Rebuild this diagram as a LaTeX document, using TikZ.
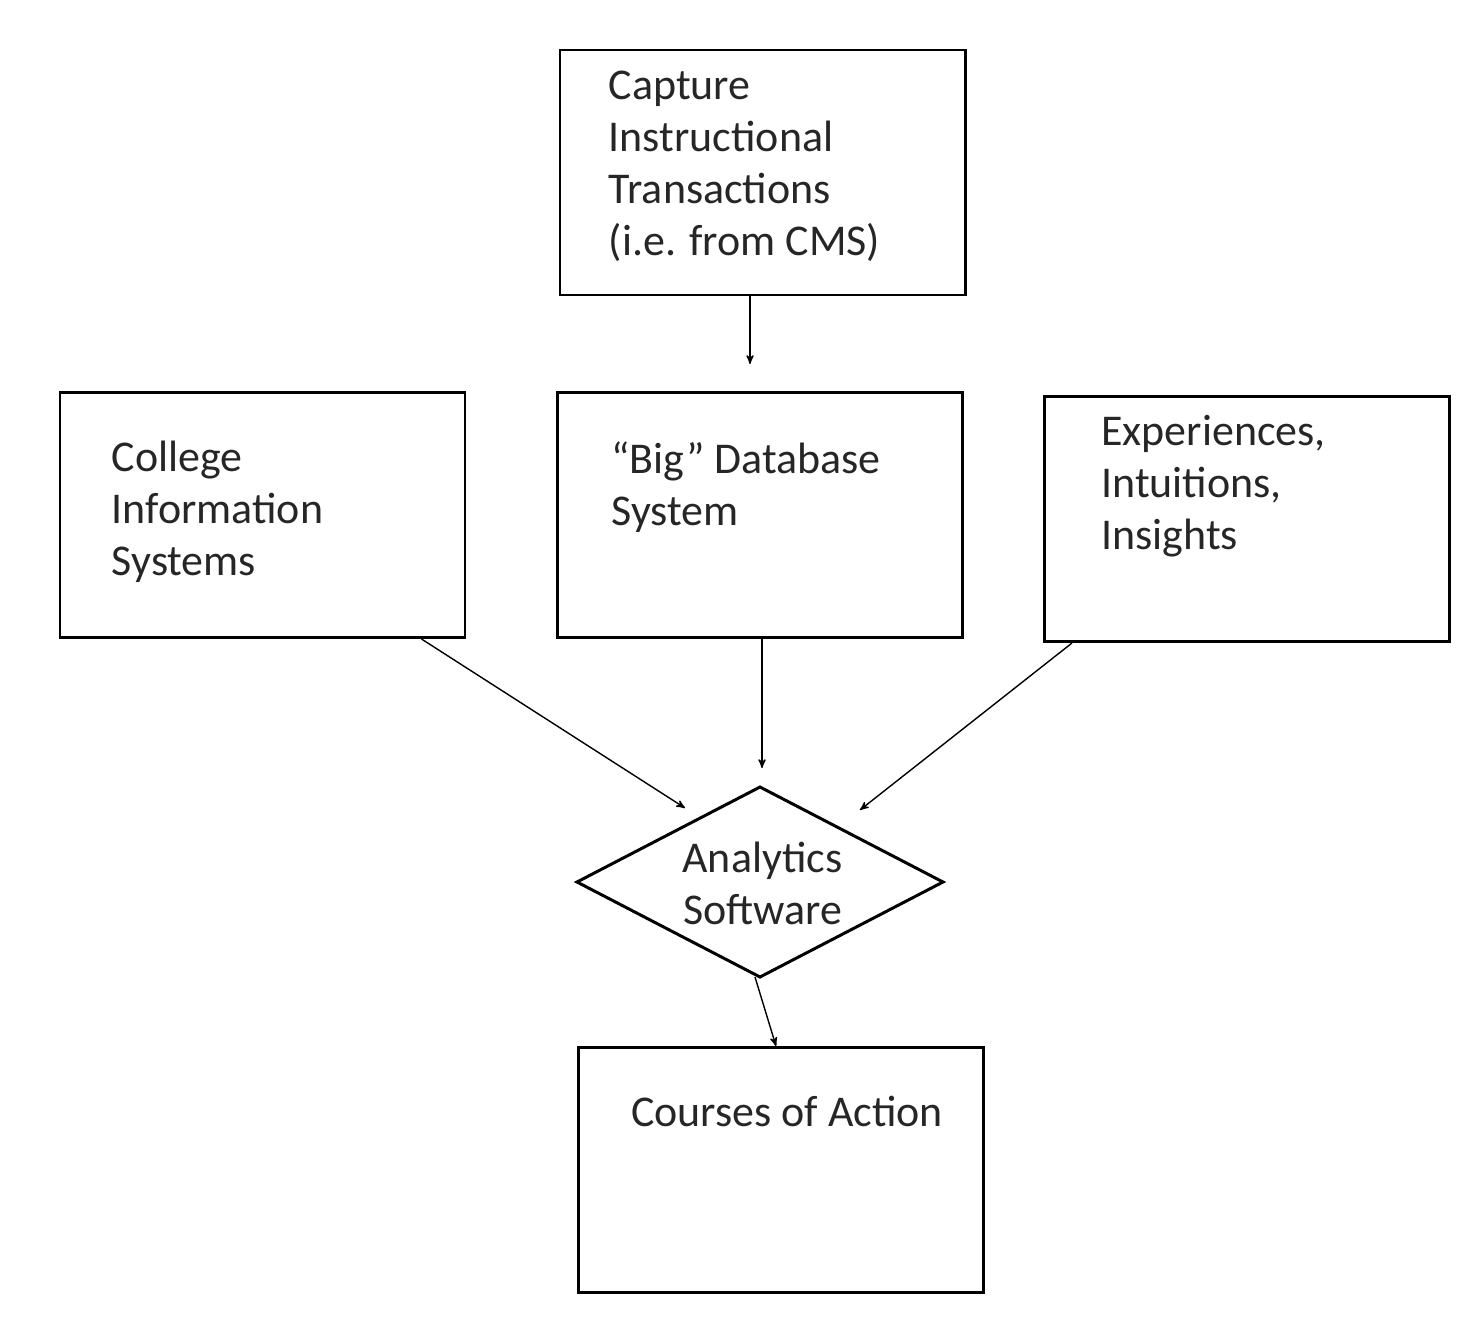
\documentclass[tikz,border=0pt]{standalone}
\usepackage{fontspec}
\setmainfont{Carlito}
\usetikzlibrary{arrows,positioning}
\begin{document}
\begin{tikzpicture}
\tikzstyle{block}=[rectangle,draw=black,line width=1.7pt,
minimum width=8.1cm,minimum height=4.9cm,inner sep=0pt]
\tikzstyle{label}=[align=left,inner sep=0pt,anchor=north west,
font=\fontsize{25}{29.6}\selectfont,text=black!85]
\tikzstyle{flow}=[->,line width=0.8pt,>=stealth']
\useasboundingbox (0,0) rectangle (29.66,-26.52);
\node[block] at (15.25,-3.45) (cms) {};
\node[block] at (5.25,-10.3) (cis) {};
\node[block] at (15.2,-10.3) (db) {};
\node[block] at (24.94,-10.38) (exp) {};
\node[block] at (15.62,-23.4) (act) {};
\coordinate (dw) at (11.54,-17.64);
\coordinate (de) at (18.86,-17.64);
\coordinate (dn) at (15.2,-15.74);
\coordinate (ds) at (15.2,-19.54);
\draw[line width=1.7pt,line join=miter] (dn) -- (de) -- (ds) -- (dw) -- cycle;
\node[label] at ([xshift=1cm,yshift=-0.45cm]cms.north west) (cmst) {Capture\\Instructional\\Transactions\\(i.e. from CMS)};
\node[label] at ([xshift=1.06cm,yshift=-1.0cm]cis.north west) (cist) {College\\Information\\Systems};
\node[label] at ([xshift=1.1cm,yshift=-1.0cm]db.north west) (dbt) {“Big” Database\\System};
\node[label] at ([xshift=1.16cm,yshift=-0.4cm]exp.north west) (expt) {Experiences,\\Intuitions,\\Insights};
\node[align=center,inner sep=0pt,font=\fontsize{25}{29.6}\selectfont,text=black!85] at (15.25,-17.66) (ana) {Analytics\\Software};
\node[label] at ([xshift=1.08cm,yshift=-1.0cm]act.north west) (actt) {Courses of Action};
% connectors
\draw[flow] ([xshift=-0.25cm]cms.south) -- ([xshift=-0.25cm,yshift=-1.35cm]cms.south);
\draw[flow] ([xshift=-0.9cm]cis.south east) -- (13.7,-16.16);
\draw[flow] ([xshift=0.04cm]db.south) -- ([xshift=0.04cm]15.2,-15.36);
\draw[flow] ([xshift=0.58cm]exp.south west) -- (17.2,-16.2);
\draw[flow] (ds) ++(-0.1,0) -- ([xshift=-0.1cm]act.north);
\end{tikzpicture}
\end{document}
